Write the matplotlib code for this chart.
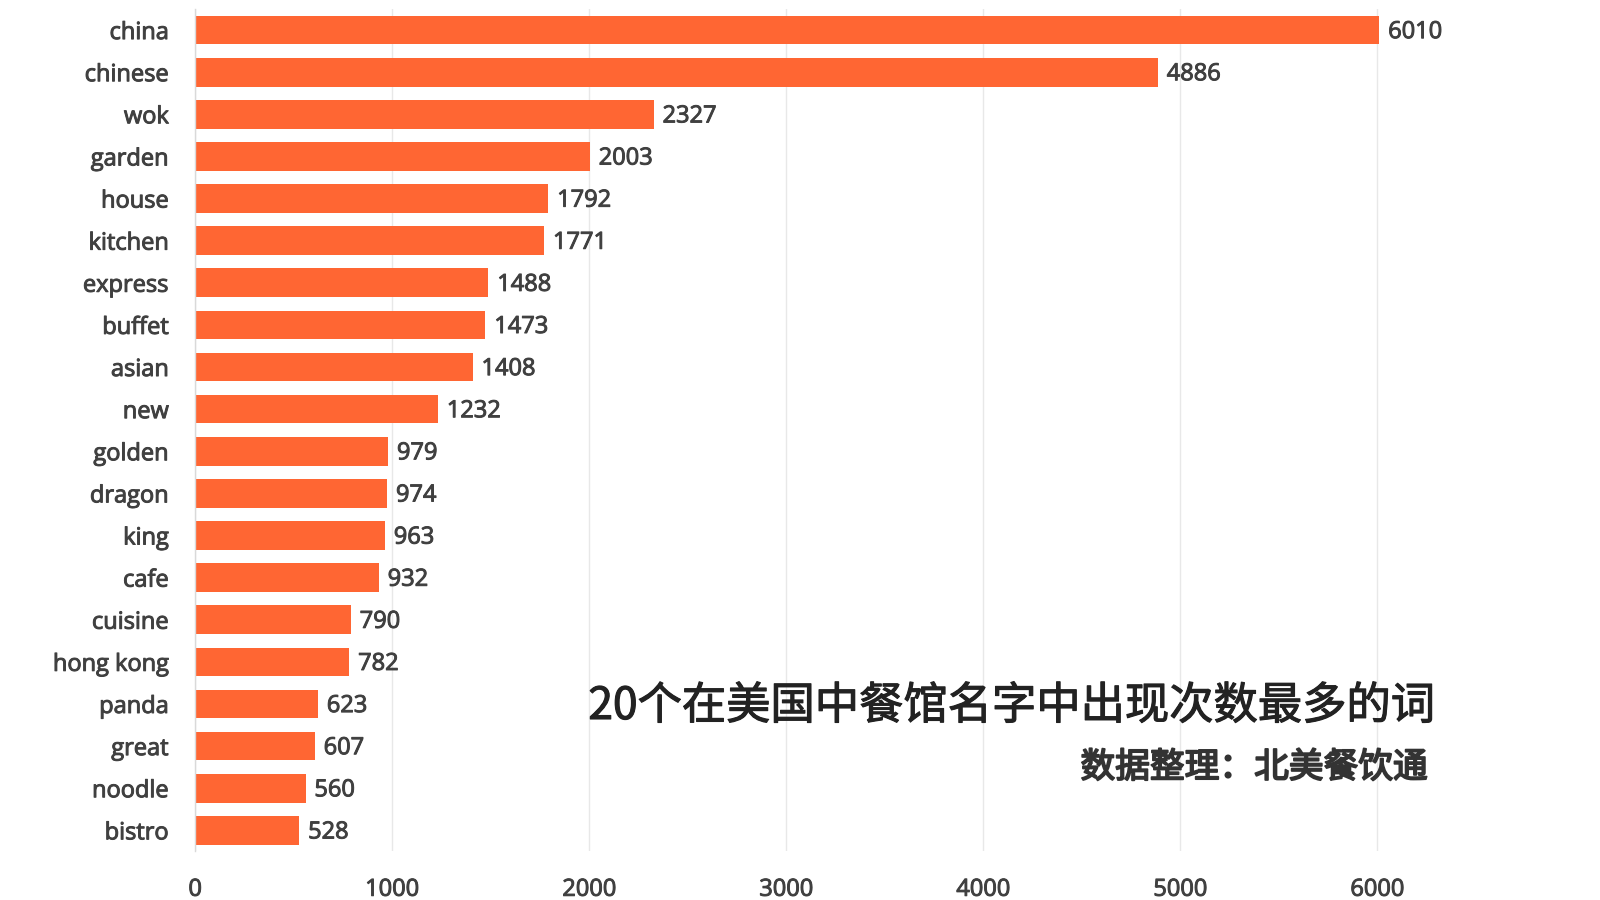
import matplotlib
matplotlib.use("Agg")
import matplotlib.pyplot as plt
import matplotlib.patheffects as pe

plt.rcParams['font.family'] = ['Noto Sans CJK SC', 'DejaVu Sans']

words = ["china", "chinese", "wok", "garden", "house", "kitchen", "express",
         "buffet", "asian", "new", "golden", "dragon", "king", "cafe",
         "cuisine", "hong kong", "panda", "great", "noodle", "bistro"]
counts = [6010, 4886, 2327, 2003, 1792, 1771, 1488, 1473, 1408, 1232,
          979, 974, 963, 932, 790, 782, 623, 607, 560, 528]
xticks = [0, 1000, 2000, 3000, 4000, 5000, 6000]
title = "20个在美国中餐馆名字中出现次数最多的词"
subtitle = "数据整理：北美餐饮通"

latin = ['Open Sans', 'DejaVu Sans']
txt_color = "#404040"
thick = [pe.withStroke(linewidth=0.7, foreground=txt_color)]

fig = plt.figure(figsize=(16, 9), dpi=100)
ax = fig.add_axes([0.122, 0.054, 0.862, 0.936])

ypos = list(range(len(words)))
ax.barh(ypos, counts, height=0.68, color="#FF6633", zorder=2)
for y, v in zip(ypos, counts):
    ax.text(v + 45, y + 0.05, str(v), va="center", ha="left", fontsize=17,
            color=txt_color, zorder=3, family=latin, path_effects=thick)

ax.set_ylim(len(words) - 0.5, -0.5)
ax.set_xlim(0, 7000)
ax.set_yticks(ypos)
ax.set_yticklabels(words, fontsize=17, color=txt_color, family=latin)
ax.set_xticks(xticks)
ax.set_xticklabels([str(t) for t in xticks], fontsize=17, color=txt_color,
                   family=latin)
for lab in ax.get_yticklabels() + ax.get_xticklabels():
    lab.set_path_effects(thick)
ax.tick_params(axis="both", length=0)
ax.tick_params(axis="x", pad=19)
ax.tick_params(axis="y", pad=19)
ax.grid(axis="x", color="#E8E8E8", linewidth=1, zorder=0)
for s in ["top", "right", "bottom"]:
    ax.spines[s].set_visible(False)
ax.spines["left"].set_color("#D9D9D9")
ax.spines["left"].set_linewidth(1)

fig.text(1434 / 1600, 1 - 706 / 900, title, ha="right", va="center",
         fontsize=31.9, color="#222222",
         path_effects=[pe.withStroke(linewidth=0.8, foreground="#222222")])
fig.text(1428 / 1600, 1 - 768 / 900, subtitle, ha="right", va="center",
         fontsize=25, color="#333333",
         path_effects=[pe.withStroke(linewidth=1.3, foreground="#333333")])

fig.savefig("out.png", dpi=100, facecolor="white")
